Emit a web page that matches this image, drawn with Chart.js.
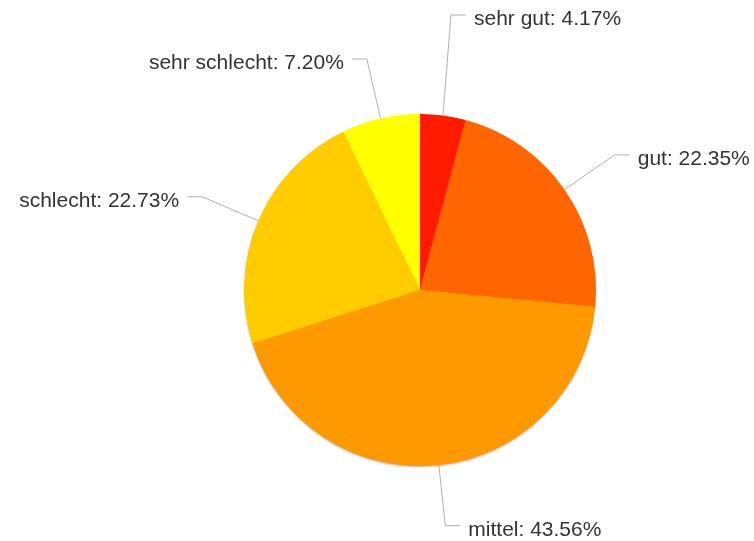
<!DOCTYPE html>
<html>
<head>
<meta charset="utf-8">
<script src="https://cdn.jsdelivr.net/npm/chart.js@4/dist/chart.umd.min.js"></script>
<style>
  html, body { margin: 0; padding: 0; background: #ffffff; }
  #wrap { width: 754px; height: 541px; position: relative; }
</style>
</head>
<body>
<div id="wrap"><canvas id="c"></canvas></div>
<script>
const categories = ["sehr gut", "gut", "mittel", "schlecht", "sehr schlecht"];
const values = [4.17, 22.35, 43.56, 22.73, 7.20];
const colors = ["#ff1a00", "#ff6600", "#ff9900", "#ffcc00", "#ffff00"];

const pieShadow = {
  id: 'pieShadow',
  beforeDatasetsDraw(chart) {
    const meta = chart.getDatasetMeta(0);
    if (!meta.data.length) return;
    const p = meta.data[0].getProps(['x', 'y', 'outerRadius'], true);
    const ctx = chart.ctx;
    ctx.save();
    ctx.shadowColor = 'rgba(120,60,0,0.45)';
    ctx.shadowBlur = 2;
    ctx.shadowOffsetY = 1.5;
    ctx.fillStyle = '#f09000';
    ctx.beginPath();
    ctx.arc(p.x, p.y, p.outerRadius - 0.5, 0, Math.PI * 2);
    ctx.fill();
    ctx.restore();
  }
};

const leaderLabels = {
  id: 'leaderLabels',
  afterDraw(chart, args, opts) {
    const ctx = chart.ctx;
    const meta = chart.getDatasetMeta(0);
    const data = chart.data.datasets[0].data;
    ctx.save();
    ctx.font = opts.font;
    ctx.lineWidth = 1;
    ctx.strokeStyle = opts.lineColor;
    ctx.fillStyle = opts.textColor;
    meta.data.forEach((arc, i) => {
      const p = arc.getProps(['x', 'y', 'startAngle', 'endAngle', 'outerRadius'], true);
      const mid = (p.startAngle + p.endAngle) / 2;
      const cos = Math.cos(mid), sin = Math.sin(mid);
      const ex = p.x + p.outerRadius * cos;
      const ey = p.y + p.outerRadius * sin;
      const R = p.outerRadius + opts.distance;
      const bx = p.x + R * cos;
      const by = p.y + R * sin + ((opts.shiftY && opts.shiftY[i]) || 0);
      const right = cos >= 0;
      const hx = bx + (right ? opts.hLen : -opts.hLen);
      ctx.beginPath();
      ctx.moveTo(ex, ey);
      ctx.lineTo(bx, by);
      ctx.lineTo(hx, by);
      ctx.stroke();
      const txt = chart.data.labels[i] + ': ' + data[i].toFixed(2) + '%';
      ctx.textAlign = right ? 'left' : 'right';
      ctx.textBaseline = 'alphabetic';
      ctx.fillText(txt, hx + (right ? opts.gap : -opts.gap), by + opts.baselineOffset);
    });
    ctx.restore();
  }
};

new Chart(document.getElementById('c'), {
  type: 'pie',
  data: {
    labels: categories,
    datasets: [{
      data: values,
      backgroundColor: colors,
      borderWidth: 0
    }]
  },
  options: {
    responsive: true,
    maintainAspectRatio: false,
    animation: false,
    layout: { padding: { top: 114, bottom: 75, left: 200, right: 114 } },
    plugins: {
      legend: { display: false },
      tooltip: { enabled: false },
      leaderLabels: {
        font: '21px "Liberation Sans", Arial, Helvetica, sans-serif',
        textColor: '#333333',
        lineColor: '#b0b0b0',
        distance: 61,
        hLen: 15,
        gap: 8,
        baselineOffset: 10,
        shiftY: { 0: -40 }
      }
    }
  },
  plugins: [pieShadow, leaderLabels]
});
</script>
</body>
</html>
